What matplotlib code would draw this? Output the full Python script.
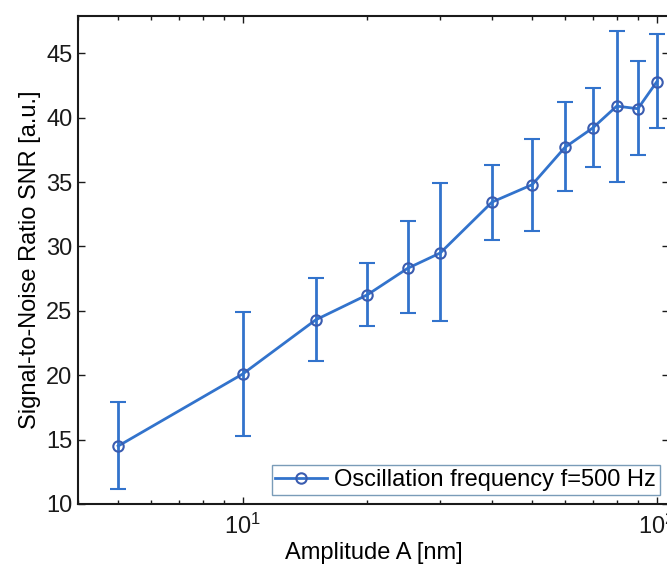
import matplotlib.pyplot as plt
from matplotlib.lines import Line2D
from matplotlib.ticker import LogLocator, NullFormatter, MultipleLocator

# data
amplitude = [5, 10, 15, 20, 25, 30, 40, 50, 60, 70, 80, 90, 100]
snr = [14.5, 20.1, 24.3, 26.25, 28.3, 29.5, 33.45, 34.8, 37.7, 39.2, 40.9, 40.7, 42.8]
snr_top = [17.9, 24.9, 27.55, 28.7, 32.0, 34.9, 36.3, 38.35, 41.2, 42.3, 46.7, 44.4, 46.5]
snr_bot = [11.2, 15.3, 21.1, 23.8, 24.8, 24.2, 30.5, 31.2, 34.3, 36.2, 35.0, 37.1, 39.2]

err_low = [s - b for s, b in zip(snr, snr_bot)]
err_high = [t - s for t, s in zip(snr_top, snr)]

plt.rcParams["font.family"] = ["Liberation Sans", "DejaVu Sans"]
plt.rcParams["mathtext.fontset"] = "custom"
plt.rcParams["mathtext.rm"] = "Liberation Sans"

blue = "#3273cc"
mark = "#3a5cb0"
fs = 17

fig = plt.figure(figsize=(6.67, 5.7), dpi=100)
ax = fig.add_axes([78 / 667, 66 / 570, 591 / 667, 488 / 570])

ax.errorbar(amplitude, snr, yerr=[err_low, err_high], color=blue, lw=2,
            marker="o", ms=7.5, mfc="none", mec=mark, mew=1.5,
            capsize=6, capthick=2, elinewidth=2)

ax.set_xscale("log")
ax.set_xlim(4, 107)
ax.set_ylim(10, 47.9)
ax.yaxis.set_major_locator(MultipleLocator(5))
ax.xaxis.set_minor_locator(LogLocator(base=10, subs=range(2, 10)))
ax.xaxis.set_minor_formatter(NullFormatter())

ax.tick_params(which="both", direction="in", top=True, right=True,
               labelsize=fs, colors="#1a1a1a", pad=4)
ax.tick_params(axis="x", which="major", pad=7)
ax.tick_params(which="major", length=5, width=1)
ax.tick_params(which="minor", length=3, width=1)
for sp in ax.spines.values():
    sp.set_linewidth(1.5)
    sp.set_color("#1a1a1a")

ax.set_xlabel("Amplitude A [nm]", fontsize=fs, labelpad=2)
ax.set_ylabel("Signal-to-Noise Ratio SNR [a.u.]", fontsize=fs, labelpad=4)

handle = Line2D([], [], color=blue, lw=2, marker="o", ms=7.5, mfc="none",
                mec=mark, mew=1.5)
leg = ax.legend([handle], ["Oscillation frequency f=500 Hz"], loc="lower right",
                fontsize=fs, fancybox=False, framealpha=1, edgecolor="#7a9cb8",
                handlelength=2.2, handletextpad=0.3, borderpad=0.15,
                borderaxespad=0.4)
leg.get_frame().set_linewidth(1)

fig.savefig("out.png", dpi=100)
